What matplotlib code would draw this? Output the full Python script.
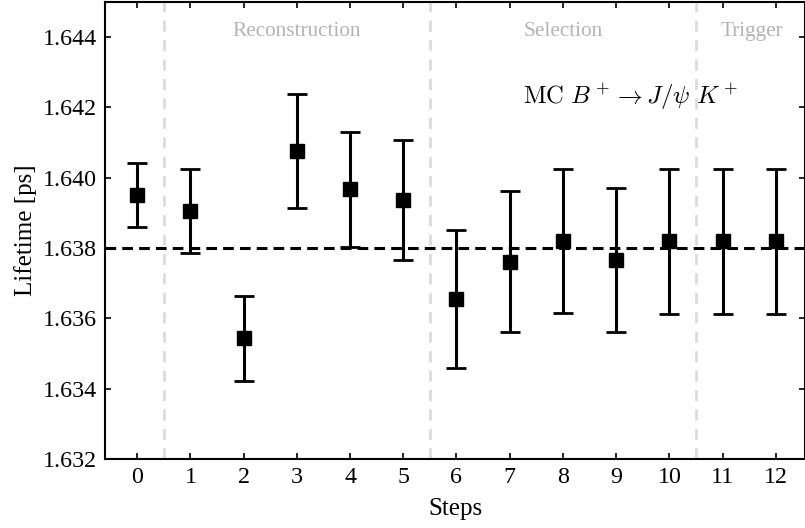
import numpy as np
import matplotlib
matplotlib.use('Agg')
import matplotlib.pyplot as plt

plt.rcParams['font.family'] = ['Liberation Serif', 'DejaVu Serif']
plt.rcParams['mathtext.fontset'] = 'cm'

steps = np.arange(13)
lifetime = [1.63951, 1.63905, 1.63543, 1.64076, 1.63967, 1.63937, 1.63655,
            1.63761, 1.63819, 1.63766, 1.63819, 1.63819, 1.63819]
errors = [0.00091, 0.00119, 0.00120, 0.00162, 0.00164, 0.00170, 0.00195,
          0.00201, 0.00205, 0.00205, 0.00206, 0.00206, 0.00206]
true_lifetime = 1.638
boundaries = [0.5, 5.5, 10.5]
sections = ['Reconstruction', 'Selection', 'Trigger']
section_x = [3.0, 8.0, 11.55]

fig = plt.figure(figsize=(8.05, 5.28), dpi=100)
ax = fig.add_axes([0.1308, 0.1307, 0.8692, 0.8659])

# step group boundaries
for b in boundaries:
    ax.axvline(b, color='#dcdcdc', linestyle='--', linewidth=2.0, dashes=(4, 3), zorder=0)

ax.axhline(true_lifetime, color='black', linestyle='--', linewidth=2.2, dashes=(3.5, 2), zorder=1)

ax.errorbar(steps, lifetime, yerr=errors, fmt='s', color='black', ms=10,
            elinewidth=2.2, capsize=7.5, capthick=2.0, zorder=3)

for name, xs in zip(sections, section_x):
    ax.text(xs, 1.64415, name, color='#b4b4b4', fontsize=15.3, ha='center', va='center')

ax.text(7.25, 1.6423, r'$\mathrm{MC}\ B^+ \to J/\psi\ K^+$', fontsize=17.8,
        ha='left', va='center')

ax.set_xlim(-0.6, 12.55)
ax.set_ylim(1.632, 1.645)
ax.set_xticks(steps)
ax.set_yticks([1.632, 1.634, 1.636, 1.638, 1.640, 1.642, 1.644])
ax.yaxis.set_major_formatter(matplotlib.ticker.FormatStrFormatter('%.3f'))
ax.tick_params(direction='in', top=True, right=True, length=4.5, width=1.2,
               labelsize=17.3, pad=6)
for s in ax.spines.values():
    s.set_linewidth(1.5)

ax.set_xlabel('Steps', fontsize=18, labelpad=7)
ax.set_ylabel('Lifetime [ps]', fontsize=18, labelpad=4)

fig.savefig('out.png', dpi=100)
